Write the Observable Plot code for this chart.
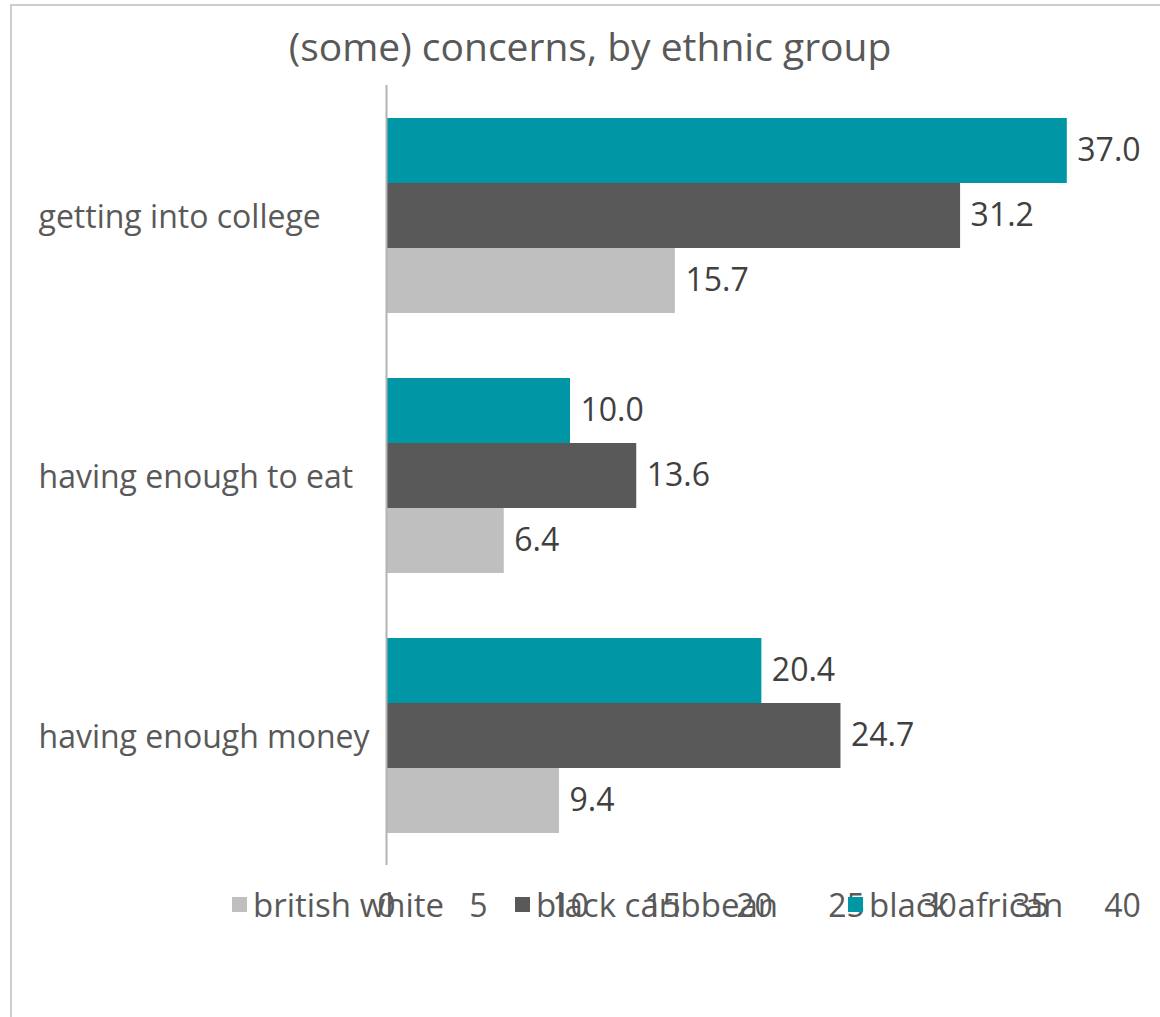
<!DOCTYPE html>
<html>
<head>
<meta charset="utf-8">
<script src="https://cdn.jsdelivr.net/npm/d3@7"></script>
<script src="https://cdn.jsdelivr.net/npm/@observablehq/plot@0.6"></script>
<style>
  html, body { margin: 0; padding: 0; background: #fff; }
  body { width: 1160px; height: 1017px; position: relative; overflow: hidden; font-family: "Open Sans", sans-serif; }
  #frame { position: absolute; left: 10px; top: 4px; width: 1160px; height: 1100px; border-left: 2px solid #c9cfcf; border-top: 2px solid #c9cfcf; box-sizing: border-box; }
  #title { position: absolute; left: 0; width: 1180px; top: 19px; text-align: center; font-size: 39px; color: #595959; }
  #chart { position: absolute; left: 0; top: 0; }
  #legend { position: absolute; top: 882px; left: 0; width: 1160px; height: 45px; font-size: 33px; color: #595959; }
  .li { position: absolute; display: flex; align-items: center; white-space: nowrap; }
  .sw { width: 15px; height: 15px; margin-right: 6px; }
</style>
</head>
<body>
<div id="frame"></div>
<div id="chart"></div>
<div id="title">(some) concerns, by ethnic group</div>
<div id="legend"></div>
<script>
const categories = ["getting into college", "having enough to eat", "having enough money"];
const series = ["black african", "black caribbean", "british white"];
const legendOrder = ["british white", "black caribbean", "black african"];
const colors = ["#0096a6", "#595959", "#bfbfbf"];
const britishWhite = [15.7, 6.4, 9.4];
const blackCaribbean = [31.2, 13.6, 24.7];
const blackAfrican = [37.0, 10.0, 20.4];
const xTicks = [0, 5, 10, 15, 20, 25, 30, 35, 40];

const seriesValues = {"british white": britishWhite, "black caribbean": blackCaribbean, "black african": blackAfrican};
const data = [];
categories.forEach((c, i) => {
  series.forEach(s => data.push({category: c, series: s, value: seriesValues[s][i]}));
});

const FONT = "'Open Sans', sans-serif";
const W = 1160, H = 1017;
const chart = Plot.plot({
  width: W,
  height: H,
  marginTop: 85,
  marginBottom: 152,
  marginLeft: 386,
  marginRight: 38,
  style: {fontFamily: FONT, background: "transparent"},
  x: {domain: [0, 40], ticks: xTicks, tickSize: 0, tickPadding: 29, label: null, tickFormat: d => String(d)},
  y: {domain: series, paddingInner: 0, paddingOuter: 0.5, axis: null},
  fy: {domain: categories, padding: 0, axis: null},
  color: {domain: series, range: colors},
  marks: [
    Plot.barX(data, {x: "value", y: "series", fy: "category", fill: "series", inset: 0}),
    Plot.text(data, {x: "value", y: "series", fy: "category", text: d => d.value.toFixed(1), dx: 10, textAnchor: "start", fontSize: 32, fill: "#404040"}),
    Plot.text(categories, {fy: d => d, frameAnchor: "left", text: d => d, dx: -348, dy: 2, textAnchor: "start", fontSize: 32, fill: "#595959"}),
    Plot.ruleX([0], {stroke: "#b3b3b3", strokeWidth: 2}),
    Plot.axisX({ticks: xTicks, tickSize: 0, tickPadding: 29, fontSize: 32, fill: "#595959", facetAnchor: "bottom", label: null})
  ]
});
document.getElementById("chart").appendChild(chart);

// legend
const legend = document.getElementById("legend");
const legendLeft = [232, 515, 848];
legendOrder.forEach((s, i) => {
  const item = document.createElement("div");
  item.className = "li";
  item.style.left = legendLeft[i] + "px";
  const sw = document.createElement("span");
  sw.className = "sw";
  sw.style.background = colors[series.indexOf(s)];
  const t = document.createElement("span");
  t.textContent = s;
  item.appendChild(sw); item.appendChild(t);
  legend.appendChild(item);
});
</script>
</body>
</html>
